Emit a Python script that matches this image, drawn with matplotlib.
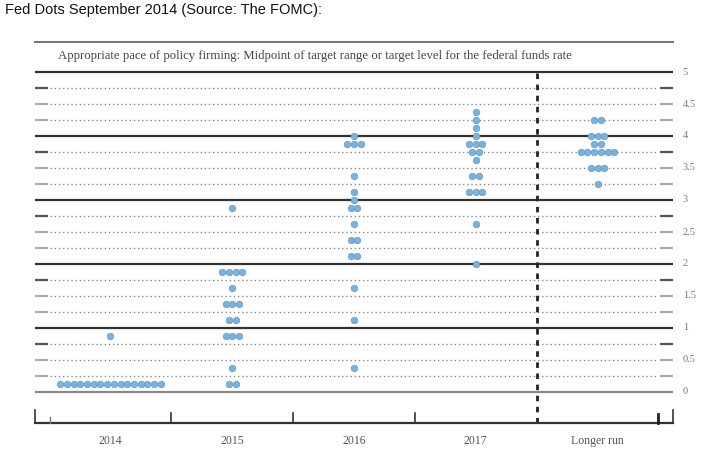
import matplotlib
matplotlib.use("Agg")
import matplotlib.pyplot as plt
import numpy as np

# columns of the dot plot
columns = ["2014", "2015", "2016", "2017", "Longer run"]

# rate levels and number of participants at each level, per column
rates_2014 = [0.125, 0.875]
count_2014 = [16, 1]

rates_2015 = [0.125, 0.375, 0.875, 1.125, 1.375, 1.625, 1.875, 2.875]
count_2015 = [2, 1, 3, 2, 3, 1, 4, 1]

rates_2016 = [0.375, 1.125, 1.625, 2.125, 2.375, 2.625, 2.875, 3.0, 3.125, 3.375, 3.875, 4.0]
count_2016 = [1, 1, 1, 2, 2, 1, 2, 1, 1, 1, 3, 1]

rates_2017 = [2.0, 2.625, 3.125, 3.375, 3.625, 3.75, 3.875, 4.0, 4.125, 4.25, 4.375]
count_2017 = [1, 1, 3, 2, 1, 2, 3, 1, 1, 1, 1]

rates_lr = [3.25, 3.5, 3.75, 3.875, 4.0, 4.25]
count_lr = [1, 3, 6, 2, 3, 2]

right_labels = ["0", "0.5", "1", "1.5", "2", "2.5", "3", "3.5", "4", "4.5", "5"]

all_rates = [rates_2014, rates_2015, rates_2016, rates_2017, rates_lr]
all_counts = [count_2014, count_2015, count_2016, count_2017, count_lr]

W, H = 708, 457
fig = plt.figure(figsize=(W / 100, H / 100), dpi=100)

# axes placed in pixels: x 35..673, y 72 (rate 5) .. 423 (bottom axis)
left_px, right_px, top_px, bot_px = 35, 673, 72, 423
ax = fig.add_axes([left_px / W, 1 - bot_px / H, (right_px - left_px) / W, (bot_px - top_px) / H])
x0, x1 = -0.62, 4.62
ybot = -(bot_px - 392) / 64.0
ax.set_xlim(x0, x1)
ax.set_ylim(ybot, 5.0)
ax.axis("off")

serif = ["Liberation Serif", "DejaVu Serif"]
grey_txt = "#555555"

# horizontal grid: solid at whole numbers, dotted at quarters with short stubs
for k in range(0, 21):
    y = k * 0.25
    if k % 4 == 0:
        col = "#888888" if k == 0 else "#333333"
        ax.plot([x0, x1], [y, y], color=col, lw=1.6, clip_on=False, solid_capstyle="butt")
    else:
        ax.plot([-0.5, 4.5], [y, y], color="#888888", lw=1.0, ls=(0, (1, 2)), clip_on=False)
        stub = "#555555" if k % 4 == 3 else "#aaaaaa"
        ax.plot([x0, -0.51], [y, y], color=stub, lw=1.6, clip_on=False, solid_capstyle="butt")
        ax.plot([4.51, x1], [y, y], color=stub, lw=1.6, clip_on=False, solid_capstyle="butt")

for i, lab in enumerate(right_labels):
    ax.text(x1 + 0.08, i * 0.5, lab, ha="left", va="center", fontsize=7.5,
            color="#777777", family=serif)

# dashed separator before the longer run column
ax.plot([3.5, 3.5], [ybot, 5.0], color="#222222", lw=2.0, ls=(0, (2, 2)), clip_on=False)

# bottom axis with ticks
ax.plot([x0, x1], [ybot, ybot], color="#333333", lw=1.6, clip_on=False)
tick_h = 13 / 64.0
ax.plot([x0, x0], [ybot, ybot + tick_h], color="#333333", lw=1.2, clip_on=False)
ax.plot([x1, x1], [ybot, ybot + tick_h], color="#333333", lw=1.2, clip_on=False)
ax.plot([-0.5, -0.5], [ybot, ybot + 6 / 64.0], color="#777777", lw=1.0, clip_on=False)
for xt in [0.5, 1.5, 2.5]:
    ax.plot([xt, xt], [ybot, ybot + 10 / 64.0], color="#333333", lw=1.2, clip_on=False)
ax.plot([4.5, 4.5], [ybot, ybot + 9 / 64.0], color="#222222", lw=2.0, clip_on=False)

for i, name in enumerate(columns):
    ax.text(i, ybot - 18 / 64.0, name, ha="center", va="center", fontsize=8.5,
            color=grey_txt, family=serif)

# dots, spread sideways around each column centre
step = 6.7 / 121.6
for i in range(len(columns)):
    xs, ys = [], []
    for r, n in zip(all_rates[i], all_counts[i]):
        for j in range(n):
            xs.append(i + (j - (n - 1) / 2) * step)
            ys.append(r)
    ax.scatter(xs, ys, s=22, color="#7db1dc", edgecolors="#6399c8", linewidths=0.5,
               zorder=5, clip_on=False)

# frame line and subtitle above the chart
fig.add_artist(plt.Line2D([left_px / W, right_px / W], [1 - 42 / H, 1 - 42 / H],
                          color="#777777", lw=1.5))
fig.text(58 / W, 1 - 56 / H,
         "Appropriate pace of policy firming: Midpoint of target range or target level for the federal funds rate",
         ha="left", va="center", fontsize=9.2, color="#444444", family=serif)

fig.text(5 / W, 1 - 10 / H, "Fed Dots September 2014 (Source: The FOMC):",
         ha="left", va="center", fontsize=10.5, color="#111111",
         family=["Liberation Sans", "DejaVu Sans"])

fig.savefig("out.png", dpi=100, facecolor="white")
